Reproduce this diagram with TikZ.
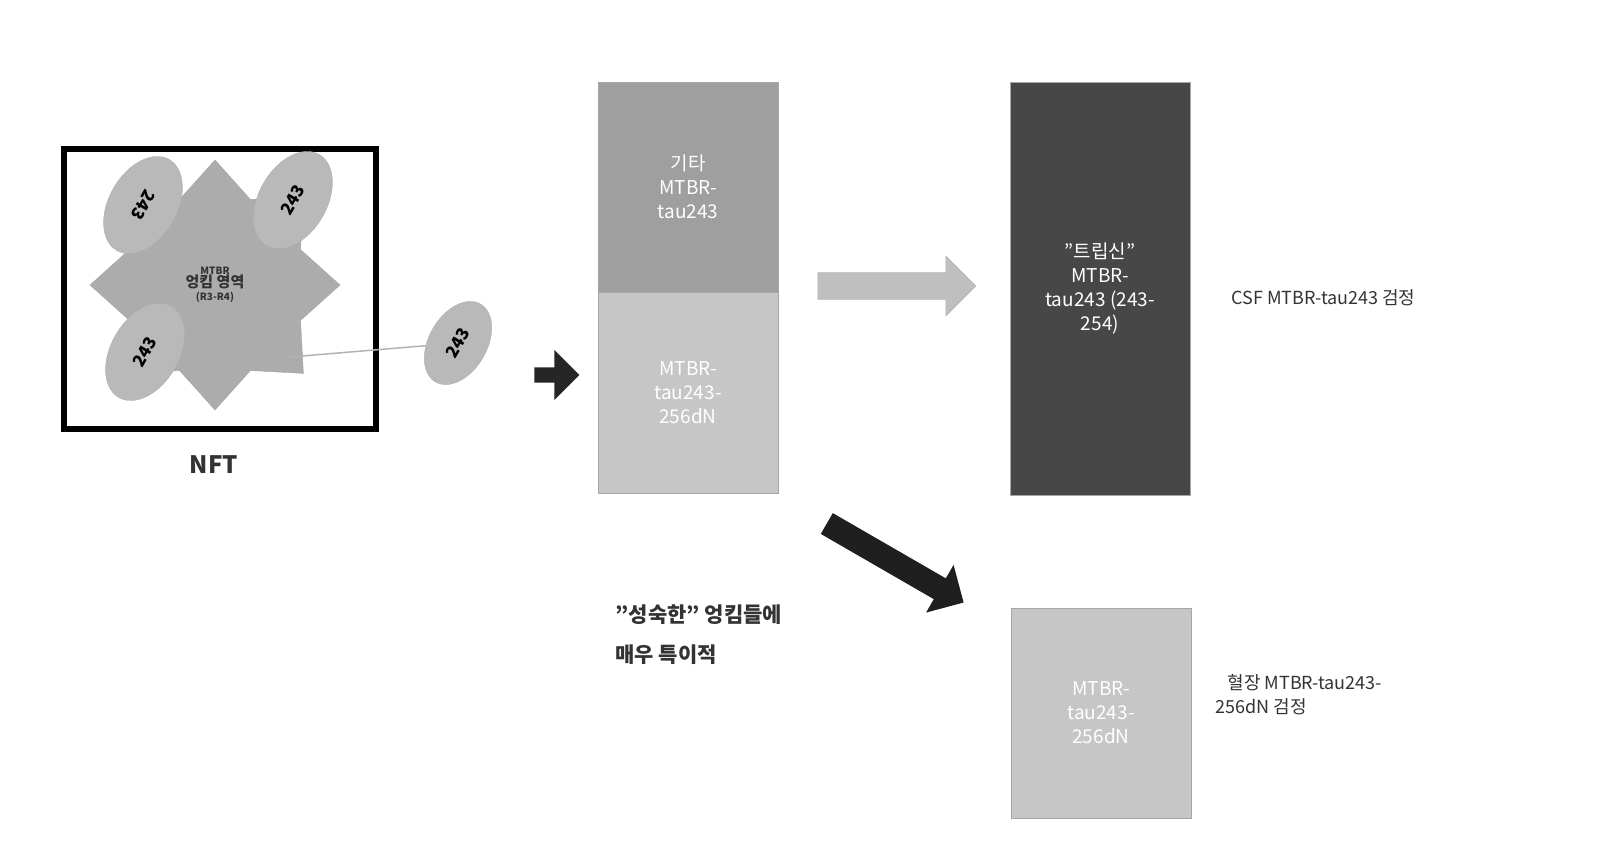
\documentclass[tikz,border=0pt]{standalone}
\usepackage{fontspec}
\setmainfont{Noto Sans CJK KR}
\usetikzlibrary{shapes.geometric,shapes.arrows}
\begin{document}
\begin{tikzpicture}[x=1pt,y=-1pt,
  ell/.style={ellipse,draw=gray!60,fill=gray!55,minimum width=105pt,minimum height=68pt,font=\bfseries\fontsize{17}{19}\selectfont},
  col/.style={draw=gray!70,minimum width=180pt,text=white,align=center,font=\fontsize{19}{24}\selectfont},
  lab/.style={font=\fontsize{18}{24}\selectfont,align=left,text=black!80}]
\useasboundingbox (0,0) rectangle (1608,846);
\node[draw=black,line width=6pt,minimum width=312pt,minimum height=280pt] (nft) at (220,289) {};
\node[star,star points=8,star point ratio=1.35,minimum size=250pt,fill=gray!65,draw=gray!70] (core) at (215,285) {};
\node[ell,rotate=-120] (e1) at (143,205) {243};
\node[ell,rotate=60] (e2) at (293,200) {243};
\node[ell,rotate=60] (e3) at (145,352) {243};
\node[align=center,font=\fontsize{10}{13}\selectfont\bfseries,text=black!80] (ct) at (215,285) {MTBR\\{\fontsize{15}{17}\selectfont 엉킴 영역}\\(R3-R4)};
\node[ell,rotate=60,minimum width=90pt,minimum height=58pt] (e4) at (458,343) {243};
\coordinate (ls) at (290,357);
\draw[gray!60,line width=1.5pt] (ls) -- (e4);
\node[font=\bfseries\fontsize{24}{26}\selectfont,text=black!80] (nftl) at (214,465) {NFT};
\node[single arrow,fill=black!85,minimum height=45pt,minimum width=50pt,single arrow head extend=5pt,inner sep=2pt] (a1) at (553,375) {};
\node[col,fill=gray!75,minimum height=210pt] (c1) at (688,187) {기타\\MTBR-\\tau243};
\node[col,fill=gray!45,minimum height=201pt] (c2) at (688,393) {MTBR-\\tau243-\\256dN};
\node[single arrow,fill=gray!50,draw=gray!60,minimum height=158pt,minimum width=60pt,single arrow head extend=10pt,inner sep=8pt] (a2) at (890,286) {};
\node[col,fill=black!72,minimum height=413pt] (c3) at (1100,289) {"트립신"\\MTBR-\\tau243 (243-\\254)};
\node[single arrow,fill=black!88,minimum height=158pt,minimum width=55pt,single arrow head extend=8pt,inner sep=6pt,rotate=-30] (a3) at (890,560) {};
\node[col,fill=gray!45,minimum height=210pt] (c4) at (1101,713) {MTBR-\\tau243-\\256dN};
\node[lab,anchor=west] (l1) at (1228,298) {CSF MTBR-tau243 검정};
\node[lab,anchor=west] (l2) at (1212,695) {\hspace*{12pt}혈장 MTBR-tau243-\\256dN 검정};
\node[lab,anchor=west,font=\bfseries\fontsize{21}{40}\selectfont] (l3) at (612,635) {"성숙한" 엉킴들에\\매우 특이적};
\end{tikzpicture}
\end{document}
